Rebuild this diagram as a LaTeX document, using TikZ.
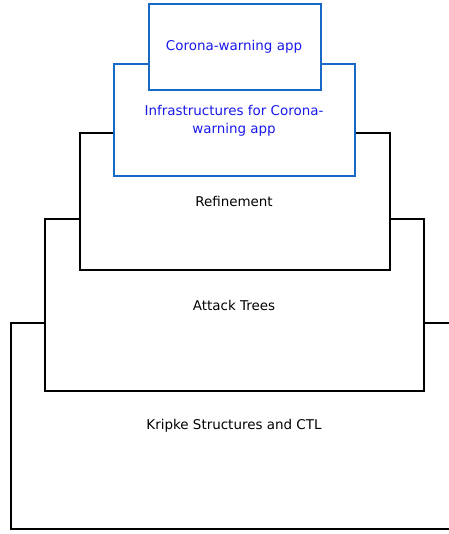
\documentclass[tikz,border=0pt]{standalone}
\usepackage{fontspec}
\setmainfont{DejaVu Sans}
\usetikzlibrary{positioning}
\definecolor{appblue}{RGB}{24,104,200}
\definecolor{apptext}{RGB}{25,25,235}

\tikzset{
  layer/.style={draw=black, line width=1.6bp, fill=white, anchor=north west, inner sep=0pt},
  applayer/.style={layer, draw=appblue},
  lbl/.style={font=\fontsize{13.5}{18}\selectfont, align=center, inner sep=0pt},
  applbl/.style={lbl, text=apptext}
}

\begin{document}
\begin{tikzpicture}[x=1bp,y=-1bp]
\clip (0,0) rectangle (449,534);
% layers, bottom one first
\node[layer, minimum width=448bp, minimum height=206bp] (kripke) at (10,322) {};
\node[layer, minimum width=379bp, minimum height=172bp] (attack) at (44,218) {};
\node[layer, minimum width=310bp, minimum height=137bp] (refine) at (79,132) {};
\node[applayer, minimum width=241bp, minimum height=112bp] (infra) at (113,63) {};
\node[applayer, minimum width=172bp, minimum height=86bp] (cwa) at (148,3) {};
% texts
\node[lbl] (kripkelbl) at (234,426) {Kripke Structures and CTL};
\node[lbl] (attacklbl) at (234,305) {Attack Trees};
\node[lbl] (refinelbl) at (234,201) {Refinement};
\node[applbl] (infralbl) at (234,121) {Infrastructures for Corona-\\warning app};
\node[applbl] (cwalbl) at (234,47) {Corona-warning app};
\end{tikzpicture}
\end{document}
